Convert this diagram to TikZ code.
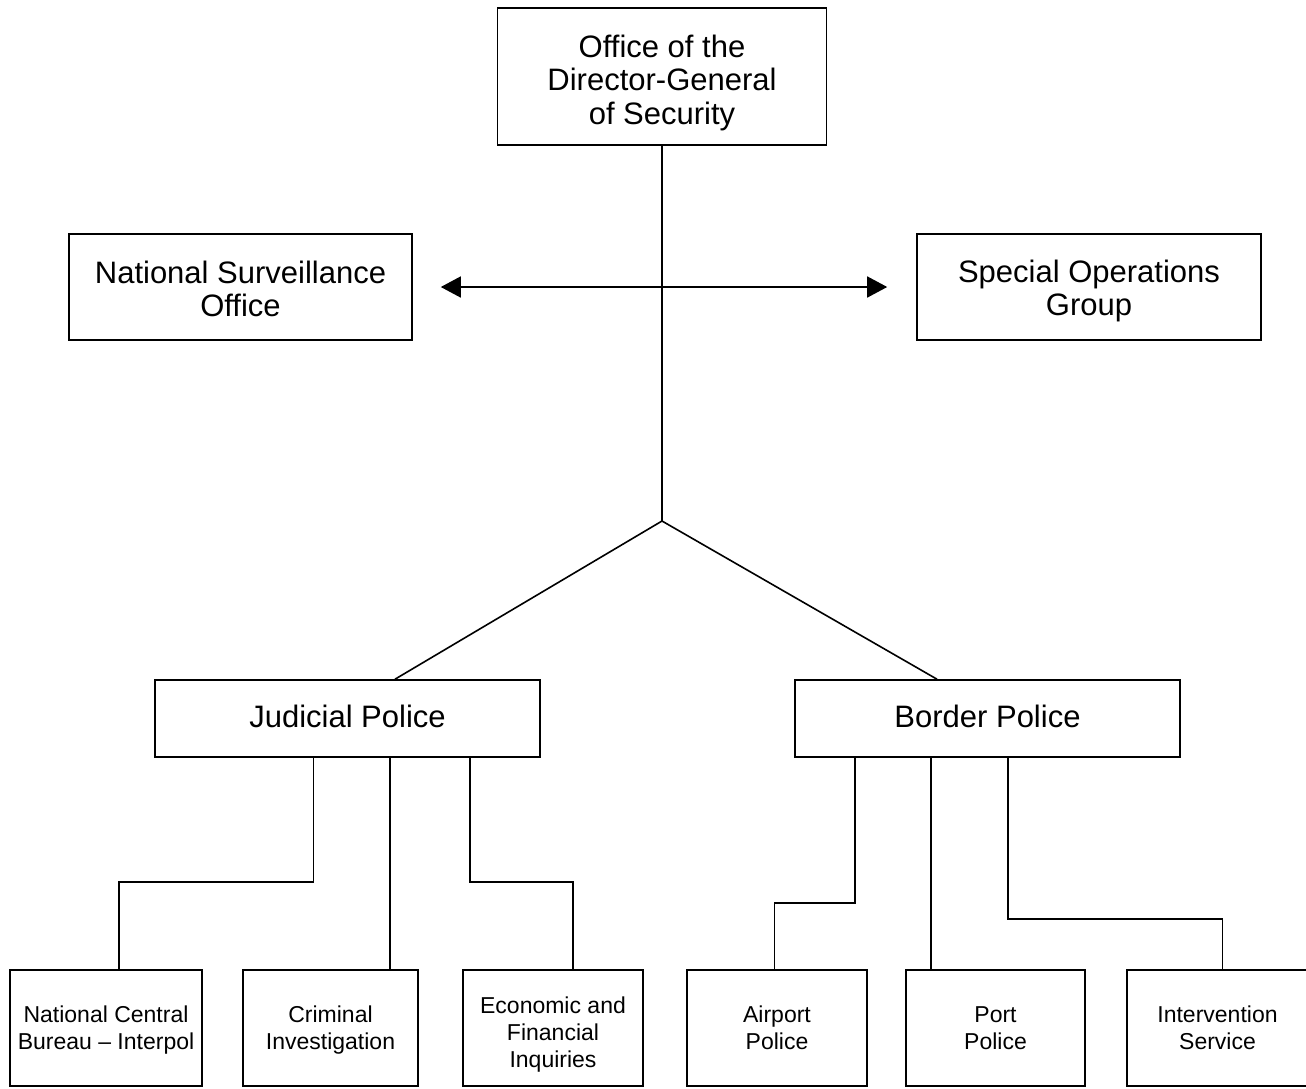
\documentclass[tikz,border=0pt]{standalone}
\usepackage{fontspec}
\setmainfont{Liberation Sans}
\usetikzlibrary{arrows.meta}
\begin{document}
\begin{tikzpicture}[x=1pt,y=-1pt,line width=1.6pt,
  box/.style={draw,inner sep=0pt},
  bigtext/.style={inner sep=0pt,align=center,font=\fontsize{31}{33.5}\selectfont},
  smalltext/.style={inner sep=0pt,align=center,font=\fontsize{23}{27}\selectfont},
  conn/.style={draw,line width=1.6pt}]
\useasboundingbox (0,0) rectangle (1306,1088);
% boxes
\node[box,minimum width=329pt,minimum height=137pt] (top) at (662,76.5) {};
\node[box,minimum width=343pt,minimum height=106pt] (nso) at (240.5,287) {};
\node[box,minimum width=344pt,minimum height=106pt] (sog) at (1089,287) {};
\node[box,minimum width=385pt,minimum height=77pt] (jud) at (347.5,718.5) {};
\node[box,minimum width=385pt,minimum height=77pt] (bor) at (987.5,718.5) {};
\node[box,minimum width=192pt,minimum height=116pt] (ncb) at (106,1028) {};
\node[box,minimum width=175pt,minimum height=116pt] (cri) at (330.5,1028) {};
\node[box,minimum width=180pt,minimum height=116pt] (eco) at (553,1028) {};
\node[box,minimum width=180pt,minimum height=116pt] (air) at (777,1028) {};
\node[box,minimum width=179pt,minimum height=116pt] (por) at (995.5,1028) {};
\node[box,minimum width=181pt,minimum height=116pt] (int) at (1217.5,1028) {};
% texts
\node[bigtext] (topt) at ([yshift=-6pt]top.center) {Office of the\\Director-General\\of Security};
\node[bigtext] (nsot) at ([yshift=-2pt]nso.center) {National Surveillance\\Office};
\node[bigtext] (sogt) at ([yshift=-4pt]sog.center) {Special Operations\\Group};
\node[bigtext] (judt) at ([yshift=2pt]jud.center) {Judicial Police};
\node[bigtext] (bort) at ([yshift=2pt]bor.center) {Border Police};
\node[smalltext] (ncbt) at ([yshift=-2pt]ncb.center) {National Central\\Bureau -- Interpol};
\node[smalltext] (crit) at ([yshift=-2pt]cri.center) {Criminal\\Investigation};
\node[smalltext] (ecot) at ([yshift=-7pt]eco.center) {Economic and\\Financial\\Inquiries};
\node[smalltext] (airt) at (air.center) {Airport\\Police};
\node[smalltext] (port) at (por.center) {Port\\Police};
\node[smalltext] (intt) at (int.center) {Intervention\\Service};
% connectors
\coordinate (j) at (662,521);
\coordinate (al) at ([xshift=28pt]nso.east);
\coordinate (ar) at ([xshift=-29pt]sog.west);
\draw[conn] (top.south) -- (j);
\draw[conn,{Triangle[length=20pt,width=21pt]}-{Triangle[length=20pt,width=21pt]}] (al) -- (ar);
\draw[conn] ([xshift=47.5pt]jud.north) -- (j) -- ([xshift=-50.5pt]bor.north);
\draw[conn] ([xshift=-34pt]jud.south) -- ++(0,124) -| ([xshift=13pt]ncb.north);
\draw[conn] ([xshift=42.5pt]jud.south) -- ([xshift=59.5pt]cri.north);
\draw[conn] ([xshift=122.5pt]jud.south) -- ++(0,124) -| ([xshift=20pt]eco.north);
\draw[conn] ([xshift=-132.5pt]bor.south) -- ++(0,145) -| ([xshift=-2.5pt]air.north);
\draw[conn] ([xshift=-56.5pt]bor.south) -- ([xshift=-64.5pt]por.north);
\draw[conn] ([xshift=20.5pt]bor.south) -- ++(0,161) -| ([xshift=5pt]int.north);
\end{tikzpicture}
\end{document}
